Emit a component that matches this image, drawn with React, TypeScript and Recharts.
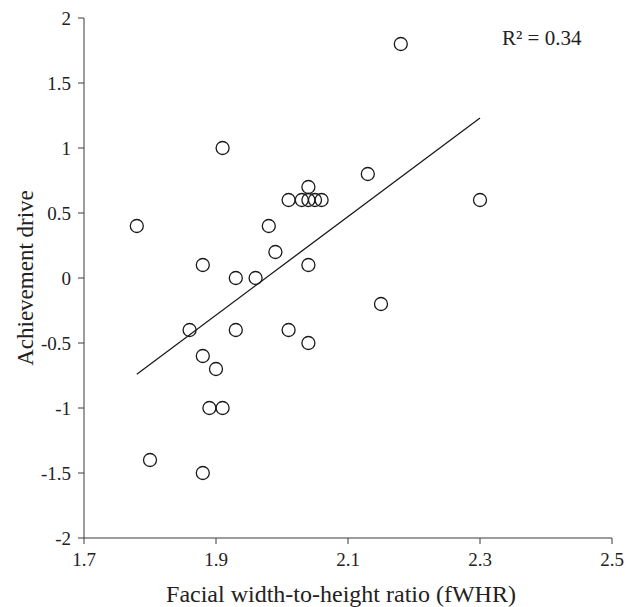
import { ScatterChart, Scatter, XAxis, YAxis } from "recharts";

const fwhr = [1.78, 1.8, 1.86, 1.88, 1.88, 1.88, 1.89, 1.9, 1.91, 1.91, 1.93, 1.93, 1.96, 1.98, 1.99, 2.01, 2.01, 2.03, 2.04, 2.04, 2.04, 2.04, 2.05, 2.06, 2.13, 2.15, 2.18, 2.3];
const drive = [0.4, -1.4, -0.4, 0.1, -0.6, -1.5, -1.0, -0.7, 1.0, -1.0, 0.0, -0.4, 0.0, 0.4, 0.2, 0.6, -0.4, 0.6, 0.7, 0.6, 0.1, -0.5, 0.6, 0.6, 0.8, -0.2, 1.8, 0.6];
const fitX = [1.78, 2.3];
const fitY = [-0.74, 1.23];
const xTicks = [1.7, 1.9, 2.1, 2.3, 2.5];
const yTicks = [-2, -1.5, -1, -0.5, 0, 0.5, 1, 1.5, 2];
const rSquared = "0.34";

const points = fwhr.map((x, i) => ({ x, y: drive[i] }));
const fit = fitX.map((x, i) => ({ x, y: fitY[i] }));

const axisColor = "#3a3a3a";
const tickFont = { fontFamily: "Liberation Serif", fontSize: 19, fill: "#222" };
const labelFont = { fontFamily: "Liberation Serif", fill: "#222" };

const Ring = (props: any) => (
  <circle cx={props.cx} cy={props.cy} r={6.5} fill="none" stroke="#1a1a1a" strokeWidth={1.3} />
);

export default function App() {
  return (
    <div style={{ position: "absolute", left: 0, top: 0, width: 637, height: 607, background: "#fff" }}>
      <ScatterChart width={637} height={607} margin={{ top: 18, right: 25, left: 0, bottom: 0 }}>
        <XAxis
          type="number"
          dataKey="x"
          domain={[1.7, 2.5]}
          ticks={xTicks}
          height={69}
          stroke={axisColor}
          tickSize={6}
          tickMargin={9}
          tick={tickFont}
          label={{ value: "Facial width-to-height ratio (fWHR)", position: "insideBottom", offset: 5, dx: -7, style: { ...labelFont, fontSize: 24 } }}
        />
        <YAxis
          type="number"
          dataKey="y"
          domain={[-2, 2]}
          ticks={yTicks}
          width={84}
          stroke={axisColor}
          tickSize={6}
          tickMargin={7}
          tick={tickFont}
          label={{ value: "Achievement drive", angle: -90, position: "insideLeft", offset: 25, style: { ...labelFont, fontSize: 23, textAnchor: "middle" } }}
        />
        <Scatter data={fit} line={{ stroke: "#1a1a1a", strokeWidth: 1.3 }} shape={() => <g />} isAnimationActive={false} />
        <Scatter data={points} shape={Ring} isAnimationActive={false} />
      </ScatterChart>
      <div style={{ position: "absolute", left: 502, top: 26, fontFamily: "Liberation Serif", fontSize: 21, color: "#222", whiteSpace: "nowrap" }}>
        R² = {rSquared}
      </div>
    </div>
  );
}
